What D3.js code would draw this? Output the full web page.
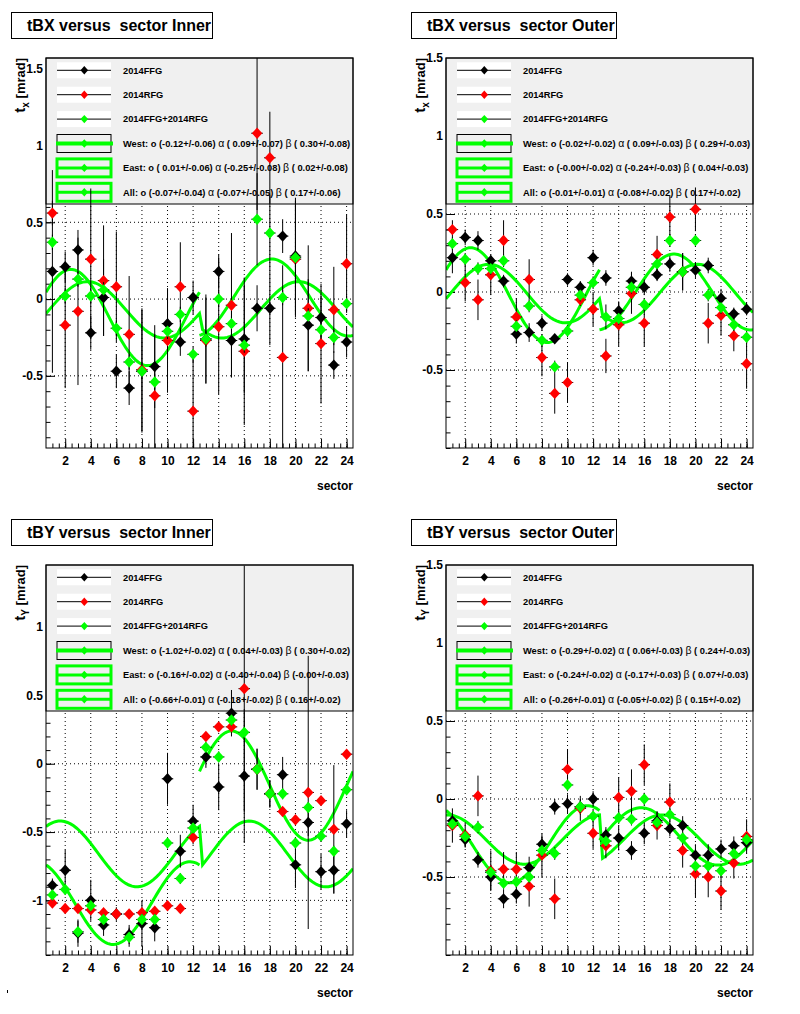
<!DOCTYPE html>
<html>
<head>
<meta charset="utf-8">
<script src="https://cdn.jsdelivr.net/npm/d3@7"></script>
<style>
body { margin: 0; background: #fff; }
text { font-family: "Liberation Sans", Arial, sans-serif; font-weight: bold; white-space: pre; }
</style>
</head>
<body>
<div id="chart"></div>
<script>
// sectors and legend
var sectors = d3.range(1, 25);
var seriesNames = ["2014FFG", "2014RFG", "2014FFG+2014RFG"];
var seriesColors = ["black", "red", "#00ff00"];
var fitNames = ["West", "East", "All"];

// tBX Inner
var xInnerFFG = [0.18, 0.21, 0.32, -0.22, 0.01, -0.47, -0.58, -0.47, -0.44, -0.16, -0.28, 0.01, -0.26, 0.18, -0.27, -0.26, -0.06, -0.06, 0.41, 0.28, -0.17, -0.12, -0.43, -0.28];
var xInnerFFGErr = [0.66, 0.10, 0.13, 0.11, 0.25, 0.11, 0.11, 0.40, 0.27, 0.23, 0.09, 0.11, 0.29, 0.11, 0.24, 0.35, 0.15, 0.24, 0.11, 0.38, 0.30, 0.14, 0.09, 0.10];
var xInnerRFG = [0.56, -0.17, -0.08, 0.26, 0.12, 0.08, -0.23, -0.46, -0.63, -0.27, 0.08, -0.73, -0.27, -0.18, -0.04, -0.34, 1.08, 0.92, -0.38, 0.26, -0.06, -0.29, -0.07, 0.23];
var xInnerRFGErr = [0.08, 0.41, 0.48, 0.46, 0.36, 0.36, 0.38, 0.40, 0.40, 0.34, 0.29, 0.40, 0.28, 0.44, 0.47, 0.48, 0.50, 0.30, 0.60, 0.38, 0.41, 0.39, 0.28, 0.32];
var xInnerSum = [0.37, 0.02, 0.13, 0.02, 0.06, -0.19, -0.41, -0.47, -0.54, -0.21, -0.10, -0.36, -0.26, 0.00, -0.16, -0.30, 0.52, 0.43, 0.01, 0.27, -0.11, -0.20, -0.25, -0.03];
var xInnerSumErr = [0.05, 0.05, 0.05, 0.05, 0.05, 0.05, 0.05, 0.05, 0.05, 0.05, 0.05, 0.05, 0.05, 0.05, 0.05, 0.05, 0.30, 0.25, 0.05, 0.05, 0.05, 0.05, 0.05, 0.05];
var xInnerFit = [["-0.12", "0.09", "0.30"], ["0.01", "-0.25", "0.02"], ["-0.07", "-0.07", "0.17"]];
var xInnerFitErr = [["0.06", "0.07", "0.08"], ["0.06", "0.08", "0.08"], ["0.04", "0.05", "0.06"]];

// tBX Outer
var xOuterFFG = [0.22, 0.35, 0.33, 0.20, 0.07, -0.27, -0.26, -0.20, -0.30, 0.08, 0.03, 0.22, 0.09, -0.12, 0.07, 0.03, 0.11, 0.18, 0.13, 0.14, 0.17, -0.04, -0.14, -0.11];
var xOuterFFGErr = [0.10, 0.05, 0.06, 0.03, 0.04, 0.06, 0.06, 0.05, 0.02, 0.04, 0.04, 0.05, 0.05, 0.06, 0.06, 0.05, 0.04, 0.05, 0.12, 0.05, 0.05, 0.06, 0.04, 0.04];
var xOuterRFG = [0.40, 0.06, -0.05, 0.11, 0.33, -0.16, 0.08, -0.42, -0.65, -0.58, -0.05, -0.11, -0.41, -0.21, -0.01, -0.20, 0.24, 0.48, 0.13, 0.53, -0.20, -0.15, -0.28, -0.46];
var xOuterRFGErr = [0.06, 0.12, 0.13, 0.13, 0.13, 0.12, 0.13, 0.12, 0.13, 0.13, 0.04, 0.11, 0.11, 0.14, 0.13, 0.15, 0.12, 0.14, 0.12, 0.14, 0.13, 0.13, 0.10, 0.16];
var xOuterSum = [0.31, 0.21, 0.15, 0.15, 0.20, -0.22, -0.09, -0.31, -0.48, -0.25, -0.02, 0.06, -0.16, -0.17, 0.03, -0.08, 0.18, 0.33, 0.13, 0.33, -0.02, -0.10, -0.21, -0.29];
var xOuterSumErr = [0.04, 0.04, 0.04, 0.04, 0.04, 0.04, 0.04, 0.04, 0.04, 0.04, 0.04, 0.04, 0.08, 0.04, 0.04, 0.04, 0.04, 0.04, 0.04, 0.04, 0.04, 0.04, 0.04, 0.04];
var xOuterFit = [["-0.02", "0.09", "0.29"], ["-0.00", "-0.24", "0.04"], ["-0.01", "-0.08", "0.17"]];
var xOuterFitErr = [["0.02", "0.03", "0.03"], ["0.02", "0.03", "0.03"], ["0.01", "0.02", "0.02"]];

// tBY Inner
var yInnerFFG = [-0.89, -0.78, -1.24, -1.00, -1.18, -1.10, -1.25, -1.17, -1.20, -0.11, -0.64, -0.42, 0.05, -0.17, 0.37, -0.09, -0.04, -0.22, -0.08, -0.74, -0.43, -0.79, -0.78, -0.44];
var yInnerFFGErr = [0.05, 0.15, 0.10, 0.15, 0.08, 0.05, 0.07, 0.17, 0.10, 0.19, 0.12, 0.12, 0.08, 0.17, 0.17, 0.49, 0.15, 0.10, 0.13, 0.17, 0.10, 0.13, 0.17, 0.10];
var yInnerRFG = [-1.02, -1.06, -1.06, -1.07, -1.09, -1.10, -1.10, -1.09, -1.08, -1.04, -1.06, -0.54, 0.20, 0.27, 0.27, 0.55, -0.04, -0.22, -0.35, -0.41, -0.21, -0.27, -0.48, 0.07];
var yInnerRFGErr = [0.03, 0.03, 0.03, 0.03, 0.03, 0.03, 0.03, 0.03, 0.03, 0.03, 0.03, 0.05, 0.03, 0.03, 0.03, 0.90, 0.03, 0.03, 0.03, 0.03, 1.00, 0.03, 0.47, 0.03];
var yInnerSum = [-0.96, -0.92, -1.23, -1.04, -1.14, null, -1.27, -1.14, -1.14, -0.58, -0.84, -0.47, 0.12, 0.05, 0.32, 0.23, -0.04, -0.22, -0.22, -0.58, -0.32, -0.53, -0.64, -0.19];
var yInnerSumErr = [0.04, 0.04, 0.08, 0.04, 0.04, 0.04, 0.07, 0.04, 0.04, 0.04, 0.04, 0.04, 0.04, 0.04, 0.04, 0.04, 0.15, 0.10, 0.04, 0.04, 0.04, 0.04, 0.04, 0.04];
var yInnerFit = [["-1.02", "0.04", "0.30"], ["-0.16", "-0.40", "-0.00"], ["-0.66", "-0.18", "0.16"]];
var yInnerFitErr = [["0.02", "0.03", "0.02"], ["0.02", "0.04", "0.03"], ["0.01", "0.02", "0.02"]];

// tBY Outer
var yOuterFFG = [-0.14, -0.26, -0.39, -0.50, -0.64, -0.61, -0.44, -0.29, -0.05, -0.03, -0.05, 0.00, -0.23, -0.25, -0.33, -0.22, -0.14, -0.19, -0.17, -0.36, -0.36, -0.32, -0.30, -0.28];
var yOuterFFGErr = [0.05, 0.05, 0.05, 0.08, 0.06, 0.06, 0.07, 0.05, 0.05, 0.06, 0.05, 0.05, 0.05, 0.08, 0.06, 0.07, 0.06, 0.05, 0.06, 0.07, 0.07, 0.06, 0.06, 0.05];
var yOuterRFG = [-0.17, -0.23, 0.02, -0.46, -0.45, -0.45, -0.56, -0.36, -0.64, 0.19, -0.06, -0.22, -0.30, 0.01, 0.05, 0.22, -0.17, -0.02, -0.33, -0.48, -0.50, -0.59, -0.41, -0.24];
var yOuterRFGErr = [0.11, 0.08, 0.13, 0.13, 0.11, 0.11, 0.13, 0.14, 0.13, 0.13, 0.08, 0.10, 0.08, 0.13, 0.14, 0.13, 0.09, 0.12, 0.11, 0.15, 0.13, 0.12, 0.10, 0.11];
var yOuterSum = [-0.16, -0.24, -0.18, -0.47, -0.54, -0.53, -0.50, -0.33, -0.35, 0.09, -0.05, -0.11, -0.27, -0.12, -0.13, 0.00, -0.15, -0.10, -0.25, -0.43, -0.43, -0.46, -0.35, -0.26];
var yOuterSumErr = [0.04, 0.04, 0.04, 0.04, 0.04, 0.04, 0.04, 0.04, 0.04, 0.04, 0.04, 0.04, 0.04, 0.04, 0.04, 0.04, 0.04, 0.04, 0.04, 0.04, 0.04, 0.04, 0.04, 0.04];
var yOuterFit = [["-0.29", "0.06", "0.24"], ["-0.24", "-0.17", "0.07"], ["-0.26", "-0.05", "0.15"]];
var yOuterFitErr = [["0.02", "0.03", "0.03"], ["0.02", "0.03", "0.03"], ["0.01", "0.02", "0.02"]];

var panels = [
    {title: "tBX versus  sector Inner", left: 46, top: 58, yDomain: [-0.97, 1.57], coord: "x", sub: "x", titleW: 201,
     series: [[xInnerFFG, xInnerFFGErr], [xInnerRFG, xInnerRFGErr], [xInnerSum, xInnerSumErr]], fit: xInnerFit, fitErr: xInnerFitErr},
    {title: "tBX versus  sector Outer", left: 446, top: 58, yDomain: [-1, 1.5], coord: "x", sub: "x", titleW: 205,
     series: [[xOuterFFG, xOuterFFGErr], [xOuterRFG, xOuterRFGErr], [xOuterSum, xOuterSumErr]], fit: xOuterFit, fitErr: xOuterFitErr},
    {title: "tBY versus  sector Inner", left: 46, top: 565, yDomain: [-1.4, 1.455], coord: "y", sub: "Y", titleW: 201,
     series: [[yInnerFFG, yInnerFFGErr], [yInnerRFG, yInnerRFGErr], [yInnerSum, yInnerSumErr]], fit: yInnerFit, fitErr: yInnerFitErr},
    {title: "tBY versus  sector Outer", left: 446, top: 565, yDomain: [-1, 1.5], coord: "y", sub: "Y", titleW: 205,
     series: [[yOuterFFG, yOuterFFGErr], [yOuterRFG, yOuterRFGErr], [yOuterSum, yOuterSumErr]], fit: yOuterFit, fitErr: yOuterFitErr}
];

var frameW = 307, frameH = 390;

var svg = d3.select("#chart")
    .append("svg")
    .attr("width", 800)
    .attr("height", 1014);

// fit shape: west sectors run one way round, east the other
function fitValue(coord, p, s, west) {
    var o = +p[0], a = +p[1], b = +p[2], t = s * Math.PI / 6;
    if (coord === "x") return west ? o + a * Math.cos(t) + b * Math.sin(t) : o + a * Math.cos(t) - b * Math.sin(t);
    return west ? o - a * Math.sin(t) + b * Math.cos(t) : o - a * Math.sin(t) - b * Math.cos(t);
}

function diamond(w, h) {
    return "M0," + (-h) + "L" + w + ",0L0," + h + "L" + (-w) + ",0Z";
}

function signed(v) { return v.charAt(0) === "-" ? v : " " + v; }

function fmtTick(d) { return String(+d.toFixed(1)); }

panels.forEach(function(p, pi) {
    var g = svg.append("g");
    var x = d3.scaleLinear().domain([0.5, 24.5]).range([p.left, p.left + frameW]);
    var y = d3.scaleLinear().domain(p.yDomain).range([p.top + frameH, p.top]);

    // title box
    g.append("rect")
        .attr("x", p.left - 34.5).attr("y", p.top - 45.5)
        .attr("width", p.titleW).attr("height", 26)
        .attr("fill", "white").attr("stroke", "black");
    g.append("text")
        .attr("x", p.left - 19).attr("y", p.top - 27)
        .attr("font-size", 16)
        .text(p.title);

    svg.append("clipPath").attr("id", "clip" + pi)
        .append("rect")
        .attr("x", p.left).attr("y", p.top)
        .attr("width", frameW).attr("height", frameH);

    g.append("rect")
        .attr("x", p.left).attr("y", p.top)
        .attr("width", frameW).attr("height", frameH)
        .attr("fill", "white");

    // grid
    var yMajor = d3.range(-1, 1.51, 0.5).filter(function(v) { return v > p.yDomain[0] && v < p.yDomain[1]; });
    var yMinor = d3.range(-14, 16).map(function(v) { return v / 10; })
        .filter(function(v) { return v >= p.yDomain[0] && v <= p.yDomain[1]; });
    var xMajor = d3.range(2, 25, 2);
    var xMinor = d3.range(1, 49).map(function(v) { return v / 2; }).filter(function(v) { return v > 0.5 && v < 24.5; });

    g.append("g").selectAll("line")
        .data(xMajor).enter().append("line")
        .attr("x1", function(d) { return x(d); }).attr("x2", function(d) { return x(d); })
        .attr("y1", p.top).attr("y2", p.top + frameH)
        .attr("stroke", "black").attr("stroke-dasharray", "1,3");
    g.append("g").selectAll("line")
        .data(yMajor).enter().append("line")
        .attr("x1", p.left).attr("x2", p.left + frameW)
        .attr("y1", function(d) { return y(d); }).attr("y2", function(d) { return y(d); })
        .attr("stroke", "black").attr("stroke-dasharray", "1,3");

    // axes, ticks pointing inside the frame
    g.append("g").attr("transform", "translate(" + p.left + ",0)")
        .call(d3.axisLeft(y).tickValues(yMajor.concat([1.5].filter(function(v) { return v <= p.yDomain[1] + 1e-9 && yMajor.indexOf(v) < 0; })))
            .tickSize(-9).tickPadding(3).tickFormat(fmtTick));
    g.append("g").attr("transform", "translate(" + p.left + ",0)")
        .call(d3.axisLeft(y).tickValues(yMinor).tickSize(-4.5).tickFormat(""));
    g.append("g").attr("transform", "translate(0," + (p.top + frameH) + ")")
        .call(d3.axisBottom(x).tickValues(xMajor).tickSize(-9).tickPadding(8).tickFormat(d3.format("d")));
    g.append("g").attr("transform", "translate(0," + (p.top + frameH) + ")")
        .call(d3.axisBottom(x).tickValues(xMinor).tickSize(-4.5).tickFormat(""));
    g.selectAll(".domain").remove();
    g.selectAll(".tick line").attr("stroke", "black");
    g.selectAll(".tick text")
        .attr("font-family", "Liberation Sans, Arial, sans-serif")
        .attr("font-weight", "bold")
        .attr("font-size", 12)
        .attr("fill", "black");

    // axis titles
    g.append("text")
        .attr("x", p.left + frameW).attr("y", p.top + frameH + 42)
        .attr("text-anchor", "end").attr("font-size", 12)
        .text("sector");
    var yt = g.append("text")
        .attr("transform", "translate(" + (p.left - 21) + "," + p.top + ") rotate(-90)")
        .attr("text-anchor", "end").attr("font-size", 13);
    yt.append("tspan").attr("font-size", 15).text("t");
    yt.append("tspan").attr("font-size", 10).attr("dy", 4).text(p.sub);
    yt.append("tspan").attr("dy", -4).text(" [mrad]");

    // legend
    var leg = g.append("g");
    leg.append("rect")
        .attr("x", p.left).attr("y", p.top)
        .attr("width", frameW).attr("height", 146)
        .attr("fill", "#f0f0f0").attr("stroke", "black");
    var rowY = function(i) { return p.top + 12.3 + 24.4 * i; };
    var symX = p.left + 38.3;
    seriesNames.forEach(function(name, i) {
        leg.append("rect")
            .attr("x", p.left + 11).attr("y", rowY(i) - 8)
            .attr("width", 54).attr("height", 16).attr("fill", "white");
        leg.append("line")
            .attr("x1", p.left + 11).attr("x2", p.left + 65)
            .attr("y1", rowY(i)).attr("y2", rowY(i)).attr("stroke", "black");
        leg.append("path")
            .attr("d", diamond(3.8, 4.2))
            .attr("transform", "translate(" + symX + "," + rowY(i) + ")")
            .attr("fill", seriesColors[i]);
        leg.append("text")
            .attr("x", p.left + 77).attr("y", rowY(i) + 3.3)
            .attr("font-size", 9.3).text(name);
    });
    fitNames.forEach(function(name, k) {
        var i = k + 3;
        var par = p.fit[k], err = p.fitErr[k];
        leg.append("rect")
            .attr("x", p.left + 11).attr("y", rowY(i) - 9)
            .attr("width", 54).attr("height", 18)
            .attr("fill", "none")
            .attr("stroke", k === 0 ? "black" : "#00ff00")
            .attr("stroke-width", k === 0 ? 1 : 3);
        leg.append("line")
            .attr("x1", p.left + (k === 0 ? 10 : 11)).attr("x2", p.left + (k === 0 ? 67 : 65))
            .attr("y1", rowY(i)).attr("y2", rowY(i))
            .attr("stroke", "#00ff00").attr("stroke-width", k === 0 ? 4 : 3);
        leg.append("path")
            .attr("d", diamond(3.8, 4.2))
            .attr("transform", "translate(" + symX + "," + rowY(i) + ")")
            .attr("fill", "#00ff00");
        var t = leg.append("text")
            .attr("x", p.left + 77).attr("y", rowY(i) + 3.3)
            .attr("font-size", 9.3);
        t.append("tspan").text(name + ": o (" + signed(par[0]) + "+/-" + err[0] + ") ");
        t.append("tspan").attr("font-weight", "normal").attr("font-size", 10.5).text("\u03b1");
        t.append("tspan").text(" (" + signed(par[1]) + "+/-" + err[1] + ") ");
        t.append("tspan").attr("font-weight", "normal").attr("font-size", 10.5).text("\u03b2");
        t.append("tspan").text(" (" + signed(par[2]) + "+/-" + err[2] + ")");
    });

    var plot = g.append("g").attr("clip-path", "url(#clip" + pi + ")");

    // fitted curves
    var line = d3.line().x(function(d) { return x(d[0]); }).y(function(d) { return y(d[1]); });
    var ranges = [[0.5, 12.5], [12.5, 24.5], [0.5, 24.5]];
    [2, 0, 1].forEach(function(k) {
        var lo = ranges[k][0], hi = ranges[k][1];
        var pts = d3.range(0, 101).map(function(i) {
            var s = lo + (hi - lo) * i / 100;
            var west = k === 0 ? true : (k === 1 ? false : s <= 12.5);
            return [s, fitValue(p.coord, p.fit[k], s, west)];
        });
        plot.append("path")
            .attr("d", line(pts))
            .attr("fill", "none")
            .attr("stroke", "#00ff00")
            .attr("stroke-width", 3);
    });

    // graphs
    p.series.forEach(function(ser, si) {
        var vals = ser[0], errs = ser[1];
        var pts = sectors.map(function(s, i) { return {s: s, v: vals[i], e: errs[i]}; })
            .filter(function(d) { return d.v !== null; });
        var sg = plot.append("g");
        sg.selectAll(".ev").data(pts).enter().append("line")
            .attr("x1", function(d) { return x(d.s); }).attr("x2", function(d) { return x(d.s); })
            .attr("y1", function(d) { return y(d.v - d.e); }).attr("y2", function(d) { return y(d.v + d.e); })
            .attr("stroke", "black");
        sg.selectAll(".eh").data(pts).enter().append("line")
            .attr("x1", function(d) { return x(d.s - 0.45); }).attr("x2", function(d) { return x(d.s + 0.45); })
            .attr("y1", function(d) { return y(d.v); }).attr("y2", function(d) { return y(d.v); })
            .attr("stroke", "black");
        sg.selectAll("path").data(pts).enter().append("path")
            .attr("d", diamond(5.2, 5.7))
            .attr("transform", function(d) { return "translate(" + x(d.s) + "," + y(d.v) + ")"; })
            .attr("fill", seriesColors[si]);
    });

    g.append("rect")
        .attr("x", p.left).attr("y", p.top)
        .attr("width", frameW).attr("height", frameH)
        .attr("fill", "none").attr("stroke", "black");
});

svg.append("rect").attr("x", 7).attr("y", 990).attr("width", 1).attr("height", 3).attr("fill", "black");
</script>
</body>
</html>
